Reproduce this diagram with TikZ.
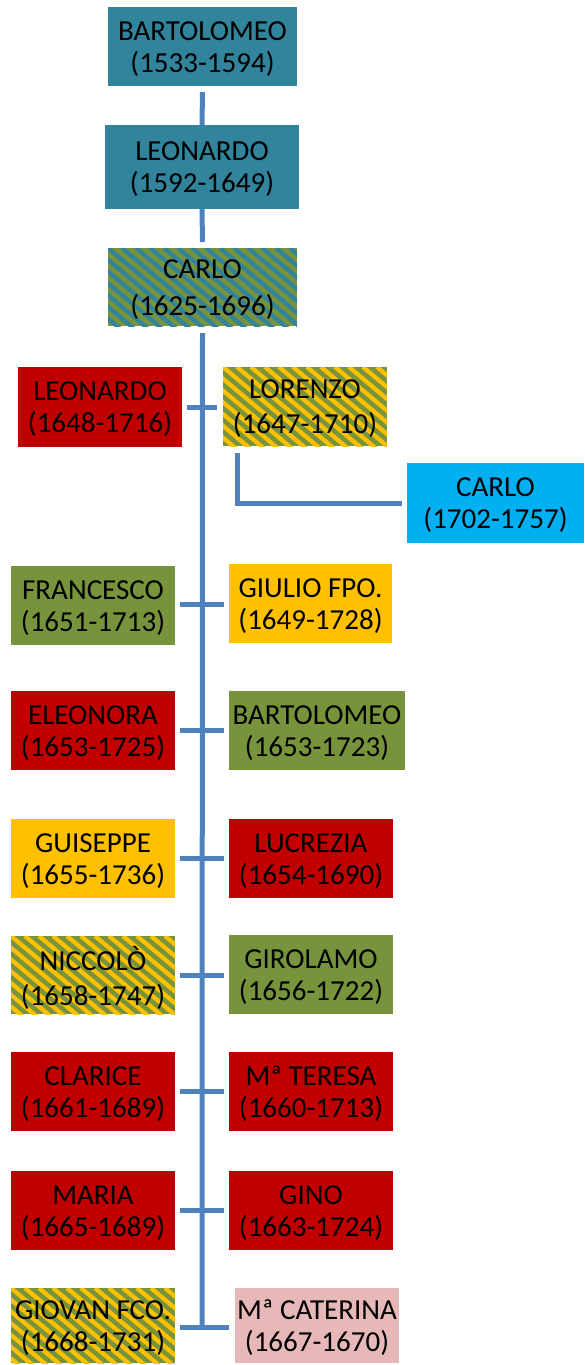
\documentclass[tikz,border=0pt]{standalone}
\usepackage{fontspec}
\setmainfont{Carlito}
\definecolor{teal1}{HTML}{31849B}
\definecolor{red1}{HTML}{C00000}
\definecolor{green1}{HTML}{77933C}
\definecolor{yellow1}{HTML}{FFC000}
\definecolor{blue1}{HTML}{00B0F0}
\definecolor{pink1}{HTML}{E6B9B8}
\definecolor{line1}{HTML}{4F81BD}
\tikzset{
  box/.style={inner sep=0pt, outer sep=0pt},
  label1/.style={inner sep=0pt, align=center, text=black,
    font=\fontsize{29}{32}\selectfont},
  wide/.style={font=\fontsize{29}{35}\selectfont},
  widest/.style={font=\fontsize{29}{37}\selectfont},
  stripes/.style={fill=green1, path picture={
    \coordinate (nw) at (path picture bounding box.north west);
    \foreach \i in {-10,...,20}{
      \draw[#1, line width=4.2pt] ([xshift=\i*14pt]nw) -- ++(300,252);
    }}},
  conn/.style={draw=line1, line width=5pt}
}
\newcommand\mybox[8]{%
  \pgfmathsetmacro\bcx{(#2+#4)/2}\pgfmathsetmacro\bcy{(#3+#5)/2}%
  \pgfmathsetmacro\bw{#4-#2}\pgfmathsetmacro\bh{#5-#3}%
  \node[box,#6,minimum width=\bw pt,minimum height=\bh pt] (#1) at (\bcx,\bcy) {};
  \node[label1,#7] (#1t) at ([yshift=-2.5pt]#1.center) {#8};}
\begin{document}
\begin{tikzpicture}[x=1pt,y=-1pt]
\useasboundingbox (0,0) rectangle (584,1365);
\mybox{b1}{108}{7}{297}{86}{fill=teal1}{}{BARTOLOMEO\\(1533-1594)}
\mybox{b2}{105}{125}{299}{209}{fill=teal1}{}{LEONARDO\\(1592-1649)}
\mybox{carlo}{108}{248}{297}{326}{stripes=teal1}{widest}{CARLO\\(1625-1696)}
\mybox{leo}{18}{367}{182}{447}{fill=red1}{}{LEONARDO\\(1648-1716)}
\mybox{lor}{223}{367}{387}{446}{stripes=yellow1}{wide}{LORENZO\\(1647-1710)}
\mybox{carlo2}{407}{463}{584}{543}{fill=blue1}{}{CARLO\\(1702-1757)}
\mybox{fra}{11}{566}{175}{645}{fill=green1}{}{FRANCESCO\\(1651-1713)}
\mybox{giu}{229}{564}{392}{643}{fill=yellow1}{}{GIULIO FPO.\\(1649-1728)}
\mybox{ele}{11}{691}{175}{770}{fill=red1}{}{ELEONORA\\(1653-1725)}
\mybox{bar}{229}{691}{405}{770}{fill=green1}{}{BARTOLOMEO\\(1653-1723)}
\mybox{gui}{11}{819}{175}{898}{fill=yellow1}{}{GUISEPPE\\(1655-1736)}
\mybox{luc}{229}{819}{393}{898}{fill=red1}{}{LUCREZIA\\(1654-1690)}
\mybox{nic}{11}{936}{175}{1014}{stripes=yellow1}{wide}{NICCOLÒ\\(1658-1747)}
\mybox{gir}{229}{935}{393}{1014}{fill=green1}{}{GIROLAMO\\(1656-1722)}
\mybox{cla}{11}{1052}{175}{1131}{fill=red1}{}{CLARICE\\(1661-1689)}
\mybox{ter}{229}{1052}{393}{1131}{fill=red1}{}{Mª TERESA\\(1660-1713)}
\mybox{mar}{11}{1171}{175}{1250}{fill=red1}{}{MARIA\\(1665-1689)}
\mybox{gin}{229}{1171}{393}{1250}{fill=red1}{}{GINO\\(1663-1724)}
\mybox{gio}{11}{1288}{175}{1363}{stripes=yellow1}{}{GIOVAN FCO.\\(1668-1731)}
\mybox{cat}{235}{1288}{399}{1363}{fill=pink1}{}{Mª CATERINA\\(1667-1670)}
\coordinate (mainend) at (202,1327);
\draw[conn] ([yshift=-6pt]b1.south) -- (b2.north);
\draw[conn] (b2.south) -- ([yshift=6pt]carlo.north);
\draw[conn] ([yshift=-7pt]carlo.south) -- (mainend);
\draw[conn] ([xshift=5pt]leo.east) -- ([xshift=-6pt]leo.east -| lor.west);
\draw[conn] ([xshift=14pt,yshift=-7pt]lor.south west) |- ([xshift=-5pt]carlo2.west);
\draw[conn] ([xshift=5pt,yshift=1.5pt]fra.east) -- ([xshift=-5pt,yshift=1.5pt]fra.east -| giu.west);
\draw[conn] ([xshift=5pt]ele.east) -- ([xshift=-5pt]ele.east -| bar.west);
\draw[conn] ([xshift=5pt]gui.east) -- ([xshift=-5pt]gui.east -| luc.west);
\draw[conn] ([xshift=5pt]nic.east) -- ([xshift=-5pt]nic.east -| gir.west);
\draw[conn] ([xshift=5pt]cla.east) -- ([xshift=-5pt]cla.east -| ter.west);
\draw[conn] ([xshift=5pt]mar.east) -- ([xshift=-5pt]mar.east -| gin.west);
\draw[conn] ([xshift=5pt,yshift=-1.5pt]gio.east) -- ([xshift=-6pt,yshift=-1.5pt]gio.east -| cat.west);
\end{tikzpicture}
\end{document}
